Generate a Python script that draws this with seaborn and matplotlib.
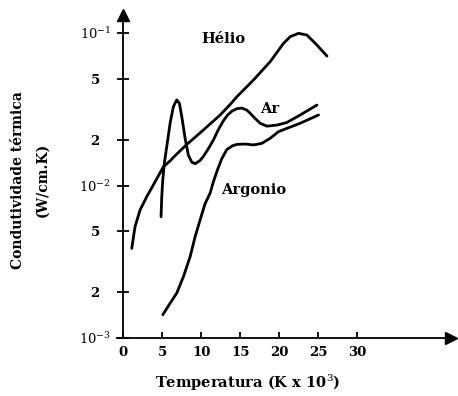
import matplotlib
matplotlib.use("Agg")
import matplotlib.pyplot as plt
import matplotlib.transforms as mtransforms
import numpy as np
import pandas as pd
import seaborn as sns

# Data (temperature in 10^3 K, conductivity W/cm.K)
helio_t = [1.12, 1.54, 2.18, 3.04, 3.88, 5.17, 6.03, 6.45, 8.17, 10.29, 12.44,
           13.72, 14.58, 16.71, 18.85, 20.55, 21.41, 22.47, 23.55, 24.83, 26.12]
helio_k = [0.00387, 0.00537, 0.0069, 0.00845, 0.01007, 0.01327, 0.0145, 0.0153,
           0.0186, 0.0231, 0.0290, 0.0340, 0.0382, 0.0492, 0.0649, 0.0855, 0.0946,
           0.0995, 0.097, 0.0834, 0.0706]

ar_t = [4.87, 4.96, 5.09, 5.29, 5.60, 6.03, 6.45, 6.88, 7.22, 7.53, 7.95, 8.37,
        8.81, 9.25, 9.87, 10.29, 10.95, 11.58, 12.2, 12.86, 13.4, 13.94, 14.58,
        15.2, 15.86, 16.28, 16.71, 17.56, 18.42, 19.71, 20.99, 22.69, 24.83]
ar_k = [0.00624, 0.00845, 0.01087, 0.0140, 0.01795, 0.0256, 0.0329, 0.0364,
        0.0346, 0.0282, 0.0204, 0.0158, 0.0142, 0.0139, 0.0146, 0.0155, 0.0175,
        0.0199, 0.0232, 0.0266, 0.0290, 0.0307, 0.0319, 0.0322, 0.0312, 0.0298,
        0.0282, 0.0256, 0.0245, 0.0249, 0.0259, 0.029, 0.0337]

argonio_t = [5.09, 6.03, 6.88, 7.73, 8.59, 9.23, 9.87, 10.51, 11.15, 11.58, 12.1,
             12.65, 13.29, 14.0, 14.58, 15.64, 16.71, 17.78, 18.85, 19.91, 20.99,
             22.69, 25.04]
argonio_k = [0.00142, 0.00169, 0.00197, 0.00252, 0.00341, 0.00461, 0.00594,
             0.0076, 0.0089, 0.0106, 0.0127, 0.0150, 0.0172, 0.0182, 0.0186,
             0.0187, 0.01845, 0.0189, 0.0204, 0.02255, 0.0237, 0.0256, 0.029]

x_ticks = [0, 5, 10, 15, 20, 25, 30]
y_ticks = [1e-3, 2e-3, 5e-3, 1e-2, 2e-2, 5e-2, 1e-1]
y_tick_labels = [r"$10^{-3}$", "2", "5", r"$10^{-2}$", "2", "5", r"$10^{-1}$"]

df = pd.concat([
    pd.DataFrame({"t": helio_t, "k": helio_k, "gas": "Hélio"}),
    pd.DataFrame({"t": ar_t, "k": ar_k, "gas": "Ar"}),
    pd.DataFrame({"t": argonio_t, "k": argonio_k, "gas": "Argonio"}),
], ignore_index=True)

sns.set_theme(style="white")
plt.rcParams["font.family"] = ["DejaVu Serif"]
plt.rcParams["mathtext.fontset"] = "dejavuserif"
plt.rcParams["text.color"] = "black"
plt.rcParams["axes.labelcolor"] = "black"
plt.rcParams["xtick.color"] = "black"
plt.rcParams["ytick.color"] = "black"

W, H = 458, 396
fig = plt.figure(figsize=(W / 100, H / 100), dpi=100)
ax_left, ax_right, ax_bottom, ax_top = 117, 451, 338, 15
ax = fig.add_axes([ax_left / W, (H - ax_bottom) / H,
                   (ax_right - ax_left) / W, (ax_bottom - ax_top) / H])

sns.lineplot(data=df, x="t", y="k", hue="gas", units="gas", estimator=None,
             sort=False, palette={"Hélio": "black", "Ar": "black", "Argonio": "black"},
             linewidth=2.0, legend=False, ax=ax)

ax.set_yscale("log")
ax.set_xlim(-0.77, 42.0)
ax.set_ylim(1e-3, 10 ** (-3 + 323 / 152.5))

for s in ["top", "right"]:
    ax.spines[s].set_visible(False)
ax.spines["left"].set_position(("data", 0))
for s in ["left", "bottom"]:
    ax.spines[s].set_color("black")
    ax.spines[s].set_linewidth(1.3)

ax.set_xticks(x_ticks)
ax.set_xticklabels([str(v) for v in x_ticks])
ax.set_yticks(y_ticks)
ax.set_yticklabels(y_tick_labels)
ax.yaxis.set_minor_locator(matplotlib.ticker.NullLocator())

ax.tick_params(axis="x", direction="in", length=4, width=1.3, color="black",
               pad=6, labelsize=9.5, labelcolor="black", bottom=True)
ax.tick_params(axis="y", direction="inout", length=8, width=1.3, color="black",
               pad=16, labelsize=9.5, labelcolor="black", left=True)
for lab in ax.get_yticklabels():
    lab.set_horizontalalignment("center")
    lab.set_fontweight("bold")
for lab in ax.get_xticklabels():
    lab.set_fontweight("bold")

ax.set_xlabel(r"Temperatura (K x 10$^3$)", fontsize=10.5, fontweight="bold")
ax.xaxis.set_label_coords((248 - ax_left) / (ax_right - ax_left),
                          -(383 - ax_bottom) / (ax_bottom - ax_top), transform=ax.transAxes)
ax.xaxis.label.set_verticalalignment("center")

ax.set_ylabel("Condutividade térmica\n(W/cm.K)", fontsize=10, fontweight="bold",
              linespacing=1.9)
ax.yaxis.set_label_coords(-(ax_left - 30) / (ax_right - ax_left),
                          (ax_bottom - 180) / (ax_bottom - ax_top), transform=ax.transAxes)
ax.yaxis.label.set_verticalalignment("center")

# arrow heads on the axes
ax.plot([0], [1.0], marker="^", markersize=8, color="black", clip_on=False,
        transform=mtransforms.blended_transform_factory(ax.transData, ax.transAxes))
ax.plot([1.0], [0], marker=">", markersize=8, color="black", clip_on=False,
        transform=ax.transAxes)

ax.text(12.8, 0.091, "Hélio", fontsize=10.5, fontweight="bold", ha="center", va="center")
ax.text(18.8, 0.0316, "Ar", fontsize=10.5, fontweight="bold", ha="center", va="center")
ax.text(16.7, 0.0094, "Argonio", fontsize=10.5, fontweight="bold", ha="center", va="center")

ax.set_facecolor("white")
fig.patch.set_facecolor("white")
fig.savefig("out.png", dpi=100)
